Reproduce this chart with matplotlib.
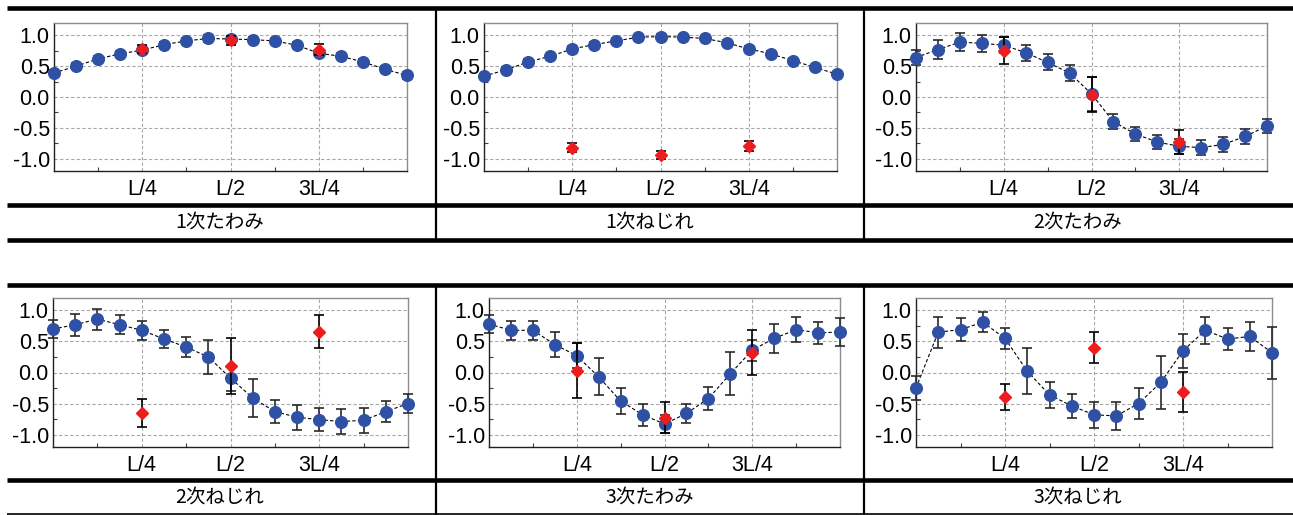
import matplotlib
matplotlib.use("Agg")
import matplotlib.pyplot as plt
from matplotlib.lines import Line2D
from matplotlib.ticker import FixedLocator

# ---------------- data ----------------
captions = ["1次たわみ", "1次ねじれ", "2次たわみ", "2次ねじれ", "3次たわみ", "3次ねじれ"]
xtick_labels = ["L/4", "L/2", "3L/4"]
xtick_pos = [4, 8, 12]
ytick_vals = [-1.0, -0.5, 0.0, 0.5, 1.0]
ytick_labels = ["-1.0", "-0.5", "0.0", "0.5", "1.0"]
x_nodes = list(range(17))
red_x = [4, 8, 12]

blue_1 = [0.39, 0.50, 0.62, 0.70, 0.76, 0.85, 0.91, 0.95, 0.94, 0.93, 0.91, 0.84, 0.71, 0.66, 0.57, 0.45, 0.35]
blue_err_1 = [0.05] * 17
red_1 = [0.78, 0.92, 0.77]
red_err_1 = [0.07, 0.07, 0.09]

blue_2 = [0.34, 0.44, 0.57, 0.66, 0.78, 0.85, 0.91, 0.97, 0.98, 0.97, 0.95, 0.88, 0.78, 0.70, 0.59, 0.48, 0.37]
blue_err_2 = [0.04] * 17
red_2 = [-0.82, -0.94, -0.80]
red_err_2 = [0.07, 0.07, 0.08]

blue_3 = [0.64, 0.77, 0.89, 0.87, 0.84, 0.72, 0.56, 0.39, 0.05, -0.40, -0.60, -0.73, -0.80, -0.82, -0.77, -0.64, -0.47]
blue_err_3 = [0.12, 0.16, 0.14, 0.14, 0.13, 0.13, 0.13, 0.13, 0.28, 0.12, 0.11, 0.12, 0.12, 0.12, 0.12, 0.12, 0.12]
red_3 = [0.75, 0.04, -0.73]
red_err_3 = [0.22, 0.28, 0.20]

blue_4 = [0.70, 0.77, 0.86, 0.77, 0.68, 0.54, 0.41, 0.25, -0.09, -0.41, -0.63, -0.72, -0.76, -0.79, -0.77, -0.63, -0.50]
blue_err_4 = [0.15, 0.18, 0.17, 0.15, 0.15, 0.15, 0.16, 0.27, 0.20, 0.30, 0.19, 0.20, 0.19, 0.20, 0.20, 0.17, 0.15]
red_4 = [-0.65, 0.10, 0.66]
red_err_4 = [0.23, 0.45, 0.26]

blue_5 = [0.78, 0.68, 0.68, 0.45, 0.27, -0.07, -0.46, -0.68, -0.83, -0.66, -0.42, -0.02, 0.36, 0.55, 0.69, 0.64, 0.65]
blue_err_5 = [0.15, 0.15, 0.15, 0.20, 0.20, 0.30, 0.21, 0.18, 0.15, 0.15, 0.19, 0.35, 0.17, 0.23, 0.20, 0.18, 0.22]
red_5 = [0.03, -0.73, 0.32]
red_err_5 = [0.44, 0.25, 0.36]

blue_6 = [-0.25, 0.65, 0.69, 0.81, 0.55, 0.02, -0.36, -0.54, -0.68, -0.70, -0.50, -0.16, 0.35, 0.68, 0.54, 0.58, 0.32]
blue_err_6 = [0.20, 0.25, 0.18, 0.16, 0.17, 0.37, 0.21, 0.20, 0.21, 0.22, 0.25, 0.42, 0.27, 0.22, 0.18, 0.24, 0.42]
red_6 = [-0.39, 0.40, -0.31]
red_err_6 = [0.21, 0.25, 0.32]

blues = [blue_1, blue_2, blue_3, blue_4, blue_5, blue_6]
blue_errs = [blue_err_1, blue_err_2, blue_err_3, blue_err_4, blue_err_5, blue_err_6]
reds = [red_1, red_2, red_3, red_4, red_5, red_6]
red_errs = [red_err_1, red_err_2, red_err_3, red_err_4, red_err_5, red_err_6]

# ---------------- figure ----------------
W, H = 1293, 515
fig = plt.figure(figsize=(W / 100, H / 100), dpi=100)

TICK_FONT = ["Liberation Sans", "DejaVu Sans"]
CJK_FONT = ["Noto Sans CJK JP", "DejaVu Sans"]

# axes boxes in pixels: (left, right, top, bottom)
boxes = [
    (54, 407, 23, 171), (484, 837, 23, 171), (916, 1267, 23, 171),
    (53, 408, 298, 447), (489, 840, 298, 447), (916, 1272, 298, 447),
]

BLUE = "#2F51A5"
RED = "#EE1C1C"

for i, (l, r, t, b) in enumerate(boxes):
    ax = fig.add_axes([l / W, 1 - b / H, (r - l) / W, (b - t) / H])
    ax.set_xlim(0, 16)
    ax.set_ylim(-1.2, 1.2)
    ax.set_xticks(xtick_pos)
    ax.set_xticklabels(xtick_labels, family=TICK_FONT, fontsize=15.5)
    ax.set_yticks(ytick_vals)
    ax.set_yticklabels(ytick_labels, family=TICK_FONT, fontsize=15.5)
    ax.xaxis.set_minor_locator(FixedLocator([2, 6, 10, 14]))
    ax.yaxis.set_minor_locator(FixedLocator([-0.75, -0.25, 0.25, 0.75]))
    ax.tick_params(axis="both", which="major", length=0)
    ax.tick_params(axis="x", which="major", pad=6)
    ax.tick_params(axis="y", which="major", pad=3)
    ax.tick_params(axis="both", which="minor", direction="in", length=3, width=0.8, color="#404040")
    ax.grid(True, which="major", color="#a8a8a8", linestyle=(0, (3, 2)), linewidth=0.8)
    for side in ("top", "right"):
        ax.spines[side].set_color("#8c8c8c")
        ax.spines[side].set_linewidth(1.0)
    for side in ("left", "bottom"):
        ax.spines[side].set_color("#202020")
        ax.spines[side].set_linewidth(1.0)

    ax.plot(x_nodes, blues[i], color="black", linestyle=(0, (3, 2)), linewidth=0.8, zorder=3)
    ax.errorbar(x_nodes, blues[i], yerr=blue_errs[i], fmt="none", ecolor="#2a2a2a",
                elinewidth=1.2, capsize=3.8, capthick=1.2, zorder=4, clip_on=False)
    ax.plot(x_nodes, blues[i], linestyle="none", marker="o", markersize=8.4,
            markerfacecolor=BLUE, markeredgecolor=BLUE, zorder=5, clip_on=False)
    ax.errorbar(red_x, reds[i], yerr=red_errs[i], fmt="none", ecolor="black",
                elinewidth=1.2, capsize=3.8, capthick=1.2, zorder=6)
    ax.plot(red_x, reds[i], linestyle="none", marker="D", markersize=6.2,
            markerfacecolor=RED, markeredgecolor=RED, zorder=7)

# ---------------- table lines ----------------
def hline(y, lw, x0=7, x1=W):
    fig.add_artist(Line2D([x0 / W, x1 / W], [1 - y / H, 1 - y / H], color="black",
                          linewidth=lw, solid_capstyle="butt"))

def vline(x, y0, y1, lw=2.0):
    fig.add_artist(Line2D([x / W, x / W], [1 - y0 / H, 1 - y1 / H], color="black",
                          linewidth=lw, solid_capstyle="butt"))

thick = 3.3
hline(8, thick)
hline(204.5, thick)
hline(240, thick)
hline(284.5, thick)
hline(480, thick)
hline(514, 1.2)
for xv in (436, 864):
    vline(xv, 8, 240, 1.6)
    vline(xv, 284.5, 515, 1.6)

col_centers = [220, 650, 1078]
row_caption_y = [222, 497]
for i, cap in enumerate(captions):
    fig.text(col_centers[i % 3] / W, 1 - row_caption_y[i // 3] / H, cap,
             ha="center", va="center", family=CJK_FONT, fontsize=14)

fig.savefig("out.png", dpi=100)
